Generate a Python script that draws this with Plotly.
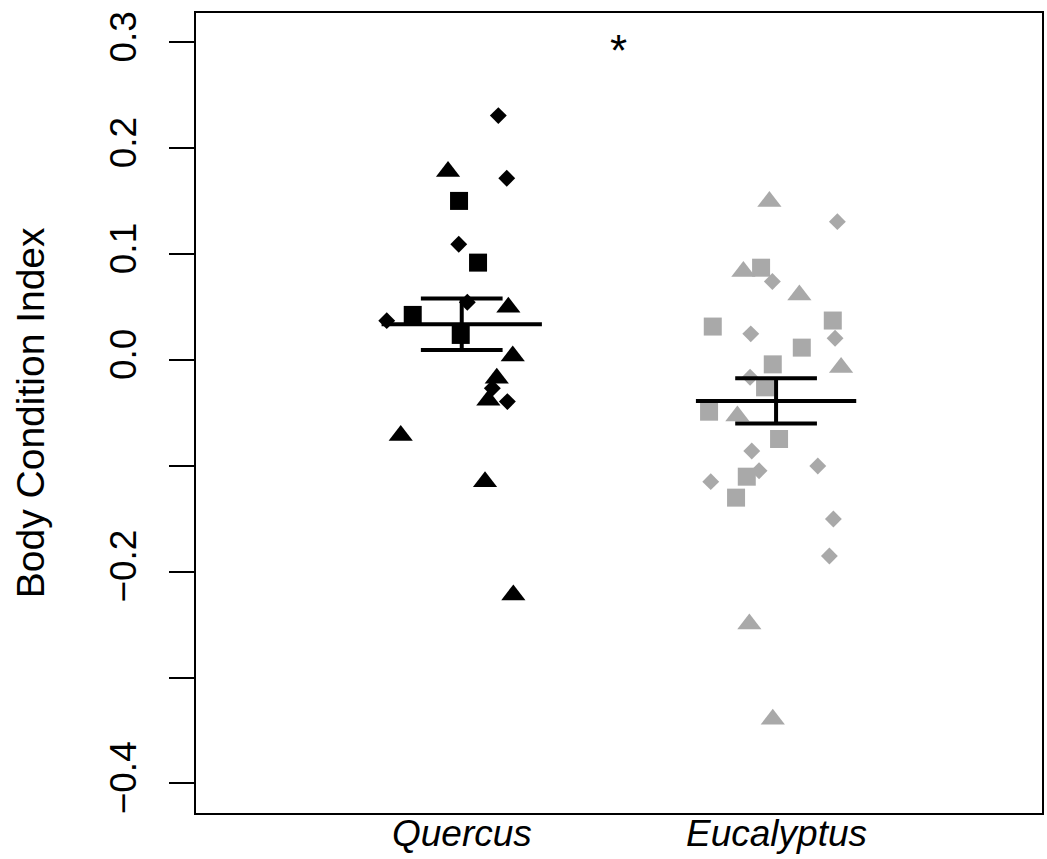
import plotly.graph_objects as go

# ---------------- data ----------------
categories = ["Quercus", "Eucalyptus"]
cat_pos = [1, 2]

# Quercus (black)
q_diamond_x = [1.1164, 1.1432, 0.9905, 1.0178, 0.7614, 1.0974, 1.1451]
q_diamond_y = [0.2308, 0.1716, 0.1093, 0.0545, 0.0371, -0.0268, -0.0394]
q_square_x = [0.9914, 1.0519, 0.8441, 0.9968]
q_square_y = [0.1502, 0.0919, 0.0425, 0.0236]
q_triangle_x = [0.9564, 1.1483, 1.1623, 1.1114, 1.0846, 0.8059, 1.0741, 1.1642]
q_triangle_y = [0.178, 0.0497, 0.0038, -0.0173, -0.038, -0.0714, -0.115, -0.222]

# Eucalyptus (grey)
e_diamond_x = [2.1950, 1.9882, 1.9195, 2.1877, 1.9173, 1.9227, 1.9459, 2.1327, 1.7922, 2.1823, 2.1696]
e_diamond_y = [0.1306, 0.0740, 0.0246, 0.0205, -0.0164, -0.0860, -0.1047, -0.1002, -0.1150, -0.1503, -0.1852]
e_square_x = [1.9523, 1.7986, 2.1804, 2.0818, 1.9895, 1.9650, 1.7868, 2.0095, 1.9068, 1.8727]
e_square_y = [0.0871, 0.0315, 0.0372, 0.0116, -0.0042, -0.0259, -0.0489, -0.0747, -0.1103, -0.1301]
e_triangle_x = [1.9787, 1.8960, 2.0741, 2.2068, 1.8769, 1.9150, 1.9895]
e_triangle_y = [0.1496, 0.0836, 0.0614, -0.0071, -0.053, -0.2494, -0.3395]

group_means = [0.0337, -0.0387]
group_se = [0.0243, 0.0214]

y_tick_vals = [-0.4, -0.3, -0.2, -0.1, 0.0, 0.1, 0.2, 0.3]
y_tick_text = ["\u22120.4", "", "\u22120.2", "", "0.0", "0.1", "0.2", "0.3"]

signif_x = 1.5
signif_y = 0.3
signif_label = "*"

# ---------------- styles ----------------
BLACK = "#000000"
GREY = "#A9A9A9"
FONT = "Liberation Sans, Arial, Helvetica, sans-serif"
MEAN_HALF = 0.255
CAP_HALF = 0.13

fig = go.Figure()

def add_pts(x, y, symbol, color, size):
    fig.add_trace(go.Scatter(
        x=x, y=y, mode="markers",
        marker=dict(symbol=symbol, color=color, size=size, line=dict(width=0)),
        showlegend=False, hoverinfo="skip"))

add_pts(q_diamond_x, q_diamond_y, "diamond", BLACK, 13)
add_pts(q_square_x, q_square_y, "square", BLACK, 18)
add_pts(q_triangle_x, q_triangle_y, "triangle-up", BLACK, 21)
add_pts(e_diamond_x, e_diamond_y, "diamond", GREY, 13)
add_pts(e_square_x, e_square_y, "square", GREY, 18)
add_pts(e_triangle_x, e_triangle_y, "triangle-up", GREY, 21)

# mean +/- SE bars
lx, ly = [], []
for p, m, s in zip(cat_pos, group_means, group_se):
    lx += [p - MEAN_HALF, p + MEAN_HALF, None]
    ly += [m, m, None]
    lx += [p - CAP_HALF, p + CAP_HALF, None]
    ly += [m + s, m + s, None]
    lx += [p - CAP_HALF, p + CAP_HALF, None]
    ly += [m - s, m - s, None]
    lx += [p, p, None]
    ly += [m - s, m + s, None]
fig.add_trace(go.Scatter(x=lx, y=ly, mode="lines",
                         line=dict(color=BLACK, width=4),
                         showlegend=False, hoverinfo="skip"))

fig.add_annotation(x=signif_x, y=signif_y, text=signif_label, showarrow=False,
                   xref="x", yref="y", font=dict(size=44, color=BLACK, family=FONT),
                   yshift=-8)

fig.add_annotation(x=-0.196, y=0.5, xref="paper", yref="paper",
                   text="Body Condition Index", textangle=-90, showarrow=False,
                   xanchor="center", yanchor="middle",
                   font=dict(size=39, color=BLACK, family=FONT))

# category labels below the plot box
for p, c in zip(cat_pos, categories):
    fig.add_annotation(x=p, y=0, xref="x", yref="paper", text="<i>%s</i>" % c,
                       showarrow=False, xanchor="center", yanchor="middle",
                       yshift=-20, font=dict(size=37, color=BLACK, family=FONT))

fig.update_layout(
    width=1047, height=859,
    margin=dict(l=196, r=5, t=13, b=46, pad=0),
    paper_bgcolor="white", plot_bgcolor="white",
    font=dict(family=FONT, size=37, color=BLACK),
    xaxis=dict(range=[0.1546, 2.846], showticklabels=False,
               showgrid=False, zeroline=False, showline=True, mirror=True,
               linecolor=BLACK, linewidth=2, ticks="", ticklen=0,
               automargin=False),
    yaxis=dict(range=[-0.428, 0.3277], tickvals=y_tick_vals, ticktext=y_tick_text,
               showgrid=False, zeroline=False, showline=True, mirror=True,
               linecolor=BLACK, linewidth=2, ticks="outside", ticklen=25,
               tickwidth=2, tickcolor=BLACK, tickangle=-90, automargin=False,
               ticklabelstandoff=18,
               tickfont=dict(size=37, family=FONT, color=BLACK)),
)

fig.write_html("out.html")
